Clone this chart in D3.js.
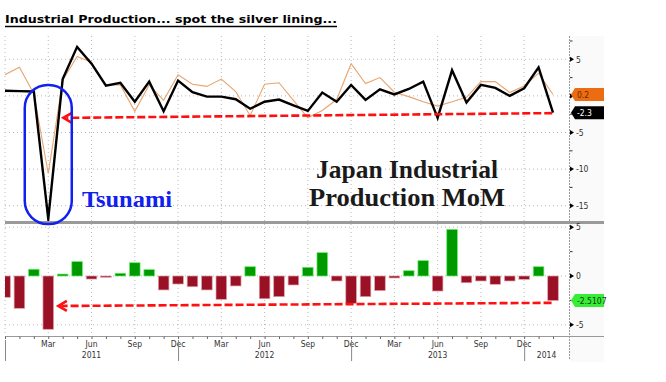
<!DOCTYPE html>
<html>
<head>
<meta charset="utf-8">
<script src="https://cdn.jsdelivr.net/npm/d3@7"></script>
<style>
  body { margin: 0; background: #fff; }
  svg { display: block; }
</style>
</head>
<body>
<svg id="chart" width="666" height="382"></svg>
<script>
// monthly periods, Dec 2010 .. Feb 2014
const periods = [
  "2010-12", "2011-01", "2011-02", "2011-03", "2011-04", "2011-05", "2011-06", "2011-07",
  "2011-08", "2011-09", "2011-10", "2011-11", "2011-12", "2012-01", "2012-02", "2012-03",
  "2012-04", "2012-05", "2012-06", "2012-07", "2012-08", "2012-09", "2012-10", "2012-11",
  "2012-12", "2013-01", "2013-02", "2013-03", "2013-04", "2013-05", "2013-06", "2013-07",
  "2013-08", "2013-09", "2013-10", "2013-11", "2013-12", "2014-01", "2014-02",
];
// actual MoM % (black)
const actual = [
  0.7, 0.65, 0.6, -16.8, 2.3, 6.7, 4.4, 1.4, 1.8, -0.8, 1.95, -2.1, 2.1, 0.5, -0.1, -0.1,
  -0.45, -1.75, -0.8, -0.5, -1.3, -2.05, 0.45, -0.8, 1.5, -0.55, 0.9, 0.2, 0.95, 1.95,
  -3.0, 3.5, -0.9, 1.5, 1.1, 0.0, 1.05, 3.9, -2.3,
];
// survey median (orange)
const survey = [
  2.9, 3.9, 0.3, -10.6, 2.1, 5.4, 4.6, 1.5, 1.5, -2.1, 1.5, -0.6, 2.9, 1.6, 1.3, 2.3,
  0.6, -2.7, 1.6, 1.8, -0.6, -3.0, -2.0, -0.5, 4.4, 1.7, 2.5, 0.5, -0.1, -0.8,
  -1.4, -0.8, -0.2, 1.95, 1.95, 0.45, 1.35, 3.1, 0.2,
];
// surprise (bars)
const surprise = [
  -2.18, -3.31, 0.69, -5.46, 0.2, 1.47, -0.31, -0.13, 0.28, 1.36, 0.65, -1.43, -0.82,
  -1.1, -1.43, -2.39, -1.02, 0.95, -2.33, -2.12, -0.92, 0.89, 2.39, -0.51, -2.8, -2.12,
  -1.5, -0.2, 0.54, 1.57, -1.54, 4.78, -0.69, -0.51, -0.85, -0.51, -0.34, 0.95, -2.5107,
];
const topTicks = [5, 0, -5, -10, -15];
const topMinor = [7.5, 2.5, -2.5, -7.5, -12.5];
const bottomTicks = [5, 0, -5];
const bottomMinor = [2.5, -2.5];
const monthNames = ["Jan", "Feb", "Mar", "Apr", "May", "Jun", "Jul", "Aug", "Sep", "Oct", "Nov", "Dec"];
const quarterMonths = [3, 6, 9, 12];
const yearLabels = ["2011", "2012", "2013", "2014"];

const svg = d3.select("#chart");

const plot = { left: 5, right: 569, edge: 604 };
const x = d3.scaleLinear().domain([0, periods.length - 1]).range([5, 553]);
const yTop = d3.scaleLinear().domain([0, 5]).range([95.9, 59.3]);
const yBot = d3.scaleLinear().domain([0, 5]).range([276, 227.2]);
const topPanel = { top: 36, bottom: 221 };
const botPanel = { top: 224, bottom: 336 };

const monthOf = (p) => +p.slice(5, 7);

//Title
svg.append("text")
  .attr("x", 5).attr("y", 23)
  .attr("font-family", "DejaVu Sans, Verdana, sans-serif")
  .attr("font-weight", "bold").attr("font-size", 11)
  .attr("textLength", 332).attr("lengthAdjust", "spacingAndGlyphs")
  .text("Industrial Production... spot the silver lining...");
svg.append("line")
  .attr("x1", 5).attr("x2", 337).attr("y1", 26.5).attr("y2", 26.5)
  .attr("stroke", "#000").attr("stroke-width", 1.4);

//Right label strip
svg.append("rect")
  .attr("x", plot.right + 1).attr("y", topPanel.top)
  .attr("width", plot.edge - plot.right - 1).attr("height", 362 - topPanel.top)
  .attr("fill", "#fafafa");

//Clip paths
const defs = svg.append("defs");
defs.append("clipPath").attr("id", "clipTop").append("rect")
  .attr("x", plot.left).attr("y", topPanel.top)
  .attr("width", plot.right - plot.left).attr("height", topPanel.bottom - topPanel.top);
defs.append("clipPath").attr("id", "clipBot").append("rect")
  .attr("x", plot.left).attr("y", botPanel.top)
  .attr("width", plot.right - plot.left).attr("height", botPanel.bottom - botPanel.top);

//Gridlines
const grid = svg.append("g")
  .attr("stroke", "#b8b8b8").attr("stroke-width", 1).attr("stroke-dasharray", "1,3");
const gridIdx = periods.map((p, i) => i).filter((i) => quarterMonths.includes(monthOf(periods[i])));
grid.selectAll(".vt").data(gridIdx).join("line")
  .attr("x1", (i) => x(i)).attr("x2", (i) => x(i))
  .attr("y1", topPanel.top).attr("y2", topPanel.bottom);
grid.selectAll(".vb").data(gridIdx).join("line")
  .attr("x1", (i) => x(i)).attr("x2", (i) => x(i))
  .attr("y1", botPanel.top).attr("y2", botPanel.bottom);
grid.selectAll(".ht").data(topTicks).join("line")
  .attr("x1", plot.left).attr("x2", plot.right)
  .attr("y1", (d) => yTop(d)).attr("y2", (d) => yTop(d));
grid.selectAll(".hb").data(bottomTicks).join("line")
  .attr("x1", plot.left).attr("x2", plot.right)
  .attr("y1", (d) => yBot(d)).attr("y2", (d) => yBot(d));

//Lines
const lineTop = (vals) => d3.line().x((d, i) => x(i)).y((d) => yTop(d))(vals);
const lines = svg.append("g").attr("clip-path", "url(#clipTop)");
lines.append("path")
  .attr("d", lineTop(survey))
  .attr("fill", "none").attr("stroke", "#e8a46e").attr("stroke-width", 1.1);
lines.append("path")
  .attr("d", lineTop(actual))
  .attr("fill", "none").attr("stroke", "#000").attr("stroke-width", 2.4)
  .attr("stroke-linejoin", "miter").attr("stroke-miterlimit", 12);

//Bars
const barW = 10.6;
svg.append("g").attr("clip-path", "url(#clipBot)")
  .selectAll("rect").data(surprise).join("rect")
  .attr("x", (d, i) => x(i) - barW / 2)
  .attr("width", barW)
  .attr("y", (d) => yBot(Math.max(0, d)))
  .attr("height", (d) => Math.abs(yBot(d) - yBot(0)))
  .attr("fill", (d) => (d >= 0 ? "#009a00" : "#9a1024"))
  .attr("stroke", (d) => (d >= 0 ? "#66ee66" : "#e0a0a8"))
  .attr("stroke-width", 0.7);

//Panel separator and frame
svg.append("line")
  .attr("x1", plot.left).attr("x2", plot.edge)
  .attr("y1", 222.5).attr("y2", 222.5)
  .attr("stroke", "#9a9a9a").attr("stroke-width", 3);
svg.append("line")
  .attr("x1", plot.left).attr("x2", plot.edge)
  .attr("y1", botPanel.bottom + 0.5).attr("y2", botPanel.bottom + 0.5)
  .attr("stroke", "#999");
svg.append("line")
  .attr("x1", plot.right + 0.5).attr("x2", plot.right + 0.5)
  .attr("y1", topPanel.top).attr("y2", 360)
  .attr("stroke", "#999").attr("stroke-dasharray", "2,1");

//Right axes
function rightAxis(scale, ticks, minor, hidden) {
  const g = svg.append("g").attr("transform", `translate(${plot.right},0)`);
  g.call(d3.axisRight(scale).tickValues(ticks).tickSize(0).tickPadding(7).tickFormat((d) => String(d)));
  g.select(".domain").remove();
  g.selectAll(".tick").filter((d) => hidden.includes(d)).select("text").remove();
  g.selectAll("text")
    .attr("font-family", "DejaVu Sans Condensed, DejaVu Sans, sans-serif")
    .attr("font-size", 8.5).attr("fill", "#333");
  g.selectAll(".tri").data(ticks).join("path")
    .attr("d", (d) => `M1,${scale(d) - 2.5}L5,${scale(d)}L1,${scale(d) + 2.5}Z`)
    .attr("fill", "#000");
  g.selectAll(".minor").data(minor).join("line")
    .attr("x1", 1).attr("x2", 3.5)
    .attr("y1", (d) => scale(d)).attr("y2", (d) => scale(d))
    .attr("stroke", "#333");
}
// the top "0" label sits under the value tags
rightAxis(yTop, topTicks, topMinor, [0]);
rightAxis(yBot, bottomTicks, bottomMinor, []);

//Value tags
function tag(yc, label, fill, color) {
  const g = svg.append("g");
  g.append("path")
    .attr("d", `M${plot.right + 2},${yc}L${plot.right + 6},${yc - 6.5}H${plot.edge}V${yc + 6.5}H${plot.right + 6}Z`)
    .attr("fill", fill);
  g.append("text")
    .attr("x", plot.right + 8).attr("y", yc + 3.2)
    .attr("font-family", "DejaVu Sans Condensed, DejaVu Sans, sans-serif")
    .attr("font-size", 8.5).attr("fill", color)
    .text(label);
}
tag(yTop(survey[survey.length - 1]), d3.format(".1f")(survey[survey.length - 1]), "#ec6c12", "#6a2a00");
tag(yTop(actual[actual.length - 1]), String(actual[actual.length - 1]), "#000", "#fff");
tag(yBot(surprise[surprise.length - 1]), String(surprise[surprise.length - 1]), "#35ee35", "#0a3a0a");

//X axis
const xg = svg.append("g").attr("transform", `translate(0,${botPanel.bottom + 0.5})`);
xg.call(d3.axisBottom(x).tickValues(periods.map((p, i) => i)).tickSize(2.5).tickFormat(""));
xg.select(".domain").remove();
xg.selectAll("line").attr("stroke", "#666");

const labelIdx = gridIdx.filter((i) => i > 0);
svg.append("g").selectAll("text").data(labelIdx).join("text")
  .attr("x", (i) => x(i)).attr("y", 347)
  .attr("text-anchor", "middle")
  .attr("font-family", "DejaVu Sans Condensed, DejaVu Sans, sans-serif")
  .attr("font-size", 8.5).attr("fill", "#333")
  .text((i) => monthNames[monthOf(periods[i]) - 1]);

const yearIdx = periods.map((p, i) => i).filter((i) => monthOf(periods[i]) === 12);
svg.append("g").selectAll("line").data(yearIdx).join("line")
  .attr("x1", (i) => x(i) + 0.5).attr("x2", (i) => x(i) + 0.5)
  .attr("y1", 340).attr("y2", 361)
  .attr("stroke", "#888");
svg.append("g").selectAll("text").data(yearLabels).join("text")
  .attr("x", (d, k) => {
    const a = x(yearIdx[k]);
    const b = k + 1 < yearIdx.length ? x(yearIdx[k + 1]) : plot.right;
    return (a + b) / 2;
  })
  .attr("y", 357.5)
  .attr("text-anchor", "middle")
  .attr("font-family", "DejaVu Sans Condensed, DejaVu Sans, sans-serif")
  .attr("font-size", 8.5).attr("fill", "#333")
  .text((d) => d);

//Annotations: arrows
function dashedArrow(scale, from, to) {
  const x1 = x(from[0]), y1 = scale(from[1]);
  const x2 = x(to[0]), y2 = scale(to[1]);
  const g = svg.append("g").attr("stroke", "#ff1010").attr("fill", "none").attr("stroke-width", 2.6);
  g.append("line")
    .attr("x1", x1).attr("y1", y1).attr("x2", x2 + 3).attr("y2", y2)
    .attr("stroke-dasharray", "8,3");
  g.append("path")
    .attr("d", `M${x2 + 8.5},${y2 - 5}L${x2},${y2}L${x2 + 8.5},${y2 + 5}`);
}
dashedArrow(yTop, [37.95, -2.35], [4.05, -3.0]);
dashedArrow(yBot, [37.9, -2.75], [3.7, -3.07]);

//Tsunami box
const iMar = periods.indexOf("2011-03");
svg.append("rect")
  .attr("x", x(iMar) - 23.5).attr("y", yTop(1.5))
  .attr("width", 47).attr("height", 224 - yTop(1.5))
  .attr("rx", 23).attr("ry", 23)
  .attr("fill", "none").attr("stroke", "#1020ee").attr("stroke-width", 2.5);
svg.append("text")
  .attr("x", 82).attr("y", 206.5)
  .attr("font-family", "Liberation Serif, Times New Roman, serif")
  .attr("font-weight", "bold").attr("font-size", 23).attr("fill", "#1020ee")
  .attr("textLength", 90).attr("lengthAdjust", "spacingAndGlyphs")
  .text("Tsunami");

//Chart label
const lab = svg.append("g")
  .attr("font-family", "Liberation Serif, Times New Roman, serif")
  .attr("font-weight", "bold").attr("font-size", 25).attr("fill", "#1a1a1a")
  .attr("text-anchor", "middle");
lab.append("text").attr("x", 407).attr("y", 178)
  .attr("textLength", 182).attr("lengthAdjust", "spacingAndGlyphs")
  .text("Japan Industrial");
lab.append("text").attr("x", 407).attr("y", 206)
  .attr("textLength", 196).attr("lengthAdjust", "spacingAndGlyphs")
  .text("Production MoM");
</script>
</body>
</html>
